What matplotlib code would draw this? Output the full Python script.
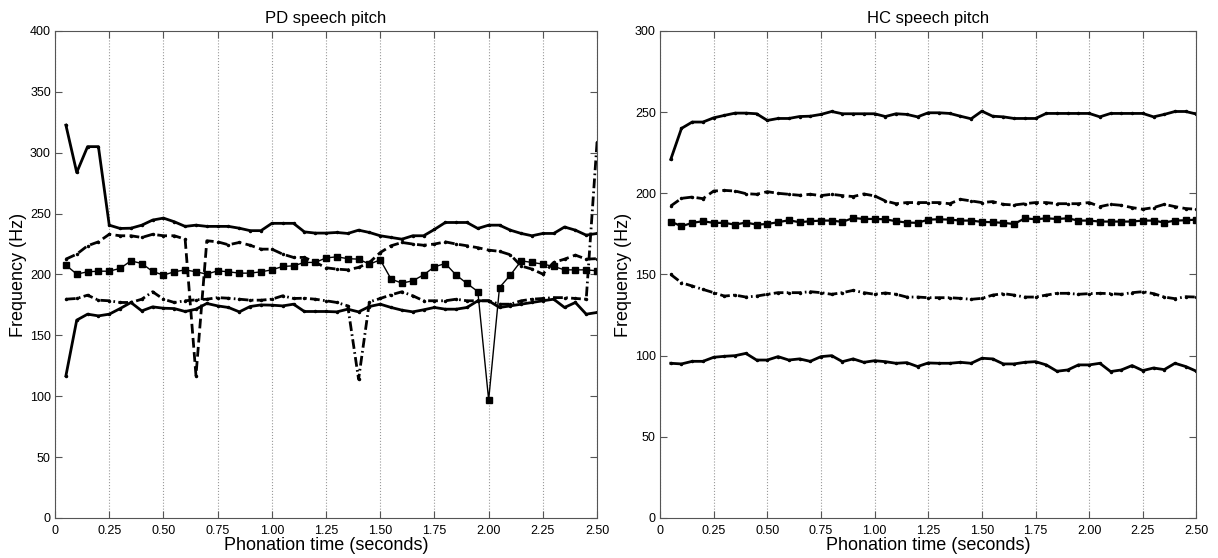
import numpy as np
import matplotlib
matplotlib.use("Agg")
import matplotlib.pyplot as plt

plt.rcParams['font.family'] = ['Liberation Sans', 'DejaVu Sans']

# sample times (s), one frame every 50 ms
t = np.arange(1, 51) * 0.05

# PD speakers
pd_a = [322.7, 283.8, 305, 305, 240.5, 237.8, 238, 240.5, 244.7, 246.3,
        243.3, 239.5, 240.5, 239.5, 239.5, 239.5, 238, 236, 236, 242,
        242, 242, 235, 234, 234, 234.5, 233.7, 236.4, 234.5, 231.8,
        230.4, 229, 231.8, 231.8, 237, 242.7, 242.7, 242.7, 237.8, 240.5,
        240.5, 236.4, 233.7, 231.8, 233.7, 233.7, 239, 236.4, 232.3, 233.7]
pd_b = [212.6, 216.7, 223.6, 226.8, 233, 231.8, 231.8, 230.4, 233, 231.8,
        231.8, 229, 117, 227.7, 226.8, 224.4, 226.3, 224, 220.8, 220.8,
        216.7, 214, 214, 210, 205.5, 204.4, 203.8, 205.8, 209.9, 218,
        223.6, 226.3, 225, 224, 225, 226.8, 225, 223.6, 222, 220,
        219, 216.2, 207, 204.4, 200.3, 209.9, 212.6, 215.9, 212.6, 213]
pd_c = [207.7, 200.3, 202.2, 202.7, 202.7, 205, 211.2, 209, 202.5, 199.5,
        202.2, 203.8, 202.2, 200.3, 203, 202.2, 201.1, 201.1, 202.2, 203.8,
        206.6, 207.1, 209.9, 209.9, 213.6, 214.5, 213, 212.6, 208.5, 212,
        196.2, 192.9, 194.8, 199.7, 206.3, 209, 199.5, 192.6, 186, 97,
        189.3, 199.5, 211.2, 209.9, 208.5, 206.6, 203.8, 203.8, 203.8, 203]
pd_d = [179.7, 180.3, 183, 178.9, 178.4, 177, 177, 179.7, 185.8, 179.7,
        177, 178.4, 179.2, 179.7, 181, 180.5, 179.7, 178.9, 178.9, 179.7,
        182.5, 180.3, 180.5, 179.7, 178.4, 177, 174.2, 114, 177.5, 180.3,
        183.3, 185.8, 182.5, 178.4, 178.4, 178.4, 179.7, 178.4, 178.4, 178.4,
        175.6, 175.6, 178.4, 179.7, 180.3, 181, 181, 180.3, 179.7, 309]
pd_e = [116.7, 162.5, 167.4, 166, 167.4, 172, 177, 170.1, 173.4, 172.3,
        172, 169.6, 171.5, 176.2, 174.2, 172.9, 169.3, 173.7, 175, 174.8,
        174.2, 175.6, 169.6, 169.6, 169.6, 169.3, 171.5, 169.3, 173.7, 175.6,
        172.9, 170.7, 169.3, 171, 172.9, 171.5, 171.5, 172.9, 178.4, 178.4,
        172.9, 174.2, 175.6, 177, 178.4, 179.7, 172.9, 177, 167.4, 168.8]

# HC speakers
hc_a = [220.9, 240, 243.9, 243.9, 246.5, 248, 249.4, 249.4, 249, 244.9,
        246.1, 246.1, 247.3, 247.5, 248.6, 250.4, 249, 249, 249, 249,
        247.3, 249, 248.6, 247.1, 249.6, 249.6, 249.2, 247.5, 245.9, 250.6,
        247.5, 247.1, 246.1, 246.1, 246.1, 249.2, 249.2, 249.2, 249.2, 249.2,
        247.1, 249.2, 249.2, 249.2, 249.2, 247.1, 248.6, 250.4, 250.4, 248.8]
hc_b = [192.2, 196.9, 197.7, 196.7, 201.4, 201.8, 201.4, 199.8, 199.4, 201,
        200, 199.4, 198.8, 199.4, 198.6, 199.4, 198.6, 198, 199.6, 198.4,
        195.3, 193.6, 194.3, 194.3, 194.3, 194.3, 193.6, 196.3, 195.3, 194.3,
        194.9, 193.2, 192.8, 193.6, 194.3, 194.3, 193.6, 193.6, 193.6, 194.3,
        191.8, 193.2, 192.6, 191.2, 190.2, 191.2, 193.2, 191.8, 190.6, 190.2]
hc_c = [182.6, 179.7, 181.8, 182.8, 181.8, 181.8, 180.7, 182, 180.7, 181.1,
        182.2, 183.4, 182.2, 182.8, 183.2, 183.2, 182.4, 184.8, 184.2, 184.2,
        184, 182.8, 182, 181.8, 183.8, 184, 183.8, 183.2, 183.2, 182.4,
        182.2, 181.8, 181.1, 184.6, 184, 184.6, 184.2, 184.6, 183.2, 183.2,
        182.6, 182.6, 182.6, 182.6, 183.2, 183.2, 182, 183.2, 183.4, 183.8]
hc_d = [150, 144.9, 142.9, 140.8, 138.8, 136.7, 137.3, 136.1, 136.7, 137.8,
        138.8, 138.8, 138.8, 139.4, 138.8, 137.8, 138.8, 140.2, 138.8, 137.8,
        138.6, 137.8, 136.1, 136.1, 135.7, 135.7, 135.7, 135.3, 134.7, 135.3,
        137.3, 138.2, 137.3, 136.1, 136.1, 137.3, 138.4, 138.4, 137.8, 138.2,
        138.4, 138.2, 137.8, 138.8, 139.4, 138.2, 136.1, 135.1, 136.3, 136.1]
hc_e = [95.3, 94.9, 96.5, 96.5, 99, 99.6, 100, 101.4, 97.3, 97.3,
        99.4, 97.3, 98, 96.5, 99.4, 100, 96.3, 98, 95.9, 96.9,
        96.3, 95.3, 95.7, 93.3, 95.5, 95.3, 95.3, 95.9, 95.3, 98.4,
        98, 94.9, 94.9, 95.9, 96.3, 94.3, 90.4, 91.2, 94.3, 94.3,
        95.3, 90.2, 91.2, 93.9, 90.8, 92.4, 91.4, 95.3, 93.3, 90.4]

xticks = [0, 0.25, 0.5, 0.75, 1.0, 1.25, 1.5, 1.75, 2.0, 2.25, 2.5]
xlabels = ["0", "0.25", "0.50", "0.75", "1.00", "1.25", "1.50", "1.75", "2.00", "2.25", "2.50"]

fig = plt.figure(figsize=(12.18, 5.58), dpi=100)
ax1 = fig.add_axes([0.0452, 0.0717, 0.445, 0.8728])
ax2 = fig.add_axes([0.5419, 0.0717, 0.4404, 0.8728])


def draw(ax, a, b, c, d, e):
    ax.plot(t, a, color="k", lw=2, marker=".", ms=3)
    ax.plot(t, b, color="k", lw=2, ls=(0, (3.5, 1.6)), marker=".", ms=3)
    ax.plot(t, c, color="k", lw=1, marker="s", ms=5)
    ax.plot(t, d, color="k", lw=2, ls=(0, (3.5, 1.2, 0.6, 1.2)), marker=".", ms=3)
    ax.plot(t, e, color="k", lw=2, marker=".", ms=3)


draw(ax1, pd_a, pd_b, pd_c, pd_d, pd_e)
draw(ax2, hc_a, hc_b, hc_c, hc_d, hc_e)
# HC square line looks a bit heavier
ax2.lines[2].set_linewidth(1.6)

for ax, top, title in [(ax1, 400, "PD speech pitch"), (ax2, 300, "HC speech pitch")]:
    ax.set_xlim(0, 2.5)
    ax.set_ylim(0, top)
    ax.set_xticks(xticks)
    ax.set_xticklabels(xlabels)
    ax.set_yticks(np.arange(0, top + 1, 50))
    ax.xaxis.grid(True, ls=":", color="#999999", lw=0.8)
    ax.tick_params(direction="in", top=True, right=True, length=5, labelsize=9,
                   color="#555555", pad=3)
    ax.tick_params(axis="x", pad=5)
    for s in ax.spines.values():
        s.set_color("#555555")
    ax.set_title(title, fontsize=12, pad=6)
    ax.set_xlabel("Phonation time (seconds)", fontsize=13, labelpad=0)
    ax.set_ylabel("Frequency (Hz)", fontsize=13, labelpad=2)

fig.savefig("out.png", dpi=100)
